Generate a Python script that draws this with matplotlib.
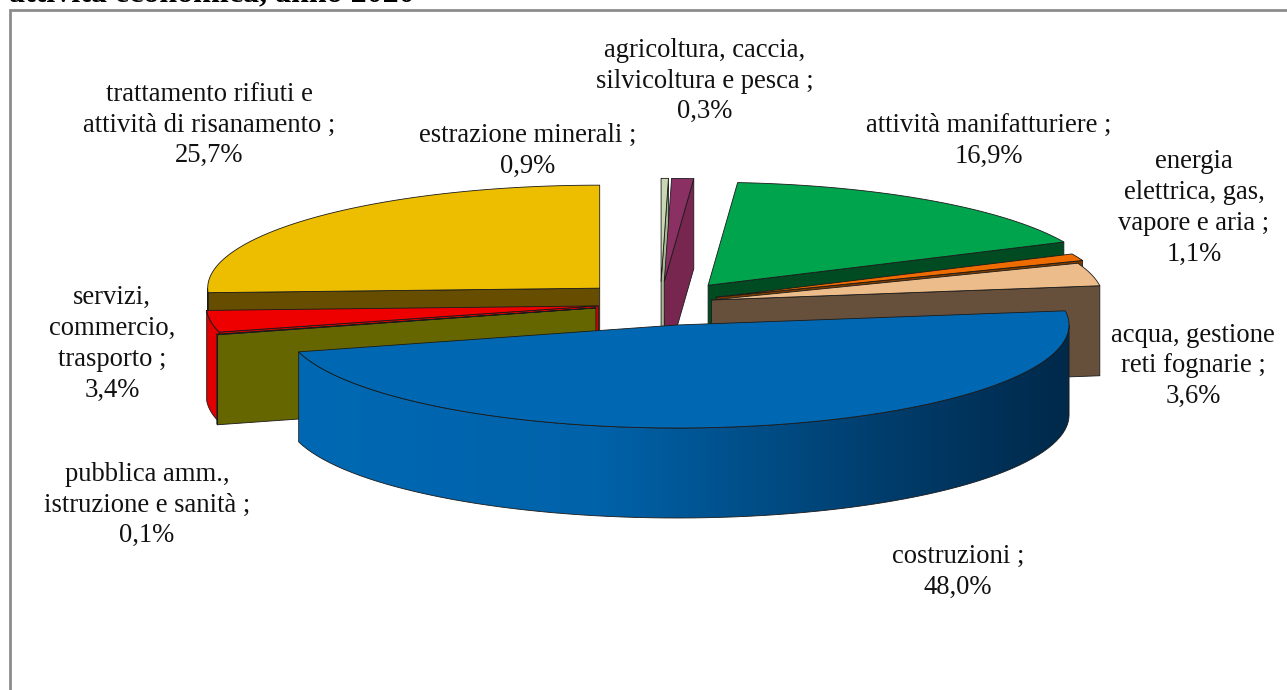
import numpy as np
import matplotlib
matplotlib.use("Agg")
import matplotlib.pyplot as plt
from matplotlib.colors import LinearSegmentedColormap
from matplotlib.patches import Polygon, Rectangle

# -----------------------------
# Data (clockwise from 12 o'clock)
# -----------------------------
categories = [
    "agricoltura, caccia,\nsilvicoltura e pesca ;",
    "estrazione minerali ;",
    "attività manifatturiere ;",
    "energia\nelettrica, gas,\nvapore e aria ;",
    "acqua, gestione\nreti fognarie ;",
    "costruzioni ;",
    "pubblica amm.,\nistruzione e sanità ;",
    "servizi,\ncommercio,\ntrasporto ;",
    "trattamento rifiuti e\nattività di risanamento ;",
]
values = [0.3, 0.9, 16.9, 1.1, 3.6, 48.0, 0.1, 3.4, 25.7]
title_text = "attività economica, anno 2020"

# -----------------------------
# Style
# -----------------------------
top_colors = ["#C9D8B2", "#8A3062", "#00A44D", "#EE6B00", "#EDBC8B",
              "#0068B3", "#666600", "#EE0000", "#EDBE00"]
side_colors = ["#A9B894", "#76264F", "#004B22", "#7A3A00", "#66503C",
               "#0068B3", "#666600", "#E00000", "#664D00"]
explode = [0.214, 0.214, 0.214, 0.155, 0.135, 0.214, 0.17, 0.16, 0.214]
label_pos = [(705, 81), (528, 151), (989, 141), (1194, 208), (1193, 366),
             (958, 572), (147, 505), (112, 344), (209, 125)]
draw_order = [8, 7, 6, 0, 1, 2, 3, 4, 5]

OX, OY = 660.3, 303.4  # pie centre on the canvas
A, B = 392, 103        # ellipse radii
DEPTH = 90

# -----------------------------
# Canvas (pixel coordinates)
# -----------------------------
plt.rcParams['font.family'] = ['Liberation Serif', 'DejaVu Serif']
fig = plt.figure(figsize=(12.87, 6.90), dpi=100)
ax = fig.add_axes([0, 0, 1, 1])
ax.set_xlim(0, 1287)
ax.set_ylim(690, 0)
ax.axis('off')

ax.add_patch(Rectangle((10, 9.5), 1300, 700, fc='white', ec='#8C8C8C', lw=2))
ax.text(9, 1.5, title_text, fontsize=23, fontweight='bold', ha='left', va='baseline',
        color='black')

# -----------------------------
# Slices
# -----------------------------
edges = np.radians(np.cumsum([0] + values) / sum(values) * 360)
blue_side = LinearSegmentedColormap.from_list(
    'blue_side', [(0, '#0068B3'), (0.38, '#0063AA'), (0.75, '#003E6E'), (1, '#00294A')])


def rim(cx, cy, start, end, n=80):
    t = np.linspace(start, end, n)
    return np.column_stack([cx + A * np.sin(t), cy - B * np.cos(t)])


def face(points, color, z):
    ax.add_patch(Polygon(points, closed=True, fc=color, ec='#1A1A1A', lw=0.6,
                         joinstyle='round', zorder=z))


z = 2
for i in draw_order:
    t1, t2 = edges[i], edges[i + 1]
    mid = (t1 + t2) / 2
    cx = OX + explode[i] * A * np.sin(mid)
    cy = OY - explode[i] * B * np.cos(mid)
    apex = np.array([[cx, cy]])
    down = np.array([0, DEPTH])

    # cut faces: right hand slices show the end cut, left hand ones the start cut
    if t2 < np.pi:
        corner = rim(cx, cy, t2, t2, 1)
        face(np.vstack([apex, corner, corner + down, apex + down]), side_colors[i], z)
    elif t1 > np.pi:
        corner = rim(cx, cy, t1, t1, 1)
        face(np.vstack([apex, corner, corner + down, apex + down]), side_colors[i], z)

    # outer wall, only where it faces the viewer
    w1, w2 = max(t1, np.pi / 2), min(t2, 3 * np.pi / 2)
    if w2 > w1:
        arc = rim(cx, cy, w1, w2)
        wall = np.vstack([arc, arc[::-1] + down])
        if i == 5:
            patch = Polygon(wall, closed=True, fc='none', ec='#1A1A1A', lw=0.6, zorder=z + 0.2)
            ax.add_patch(patch)
            grad = ax.imshow(np.linspace(0, 1, 400)[None, :], cmap=blue_side, aspect='auto',
                             extent=(wall[:, 0].min(), wall[:, 0].max(),
                                     wall[:, 1].max(), wall[:, 1].min()), zorder=z + 0.1)
            grad.set_clip_path(patch)
        else:
            face(wall, side_colors[i], z)

    # top face
    face(np.vstack([apex, rim(cx, cy, t1, t2)]), top_colors[i], z + 0.5)
    z += 1

ax.set_xlim(0, 1287)
ax.set_ylim(690, 0)

# -----------------------------
# Labels
# -----------------------------
for name, val, (x, y) in zip(categories, values, label_pos):
    pct = f"{val:.1f}".replace('.', ',') + "%"
    ax.text(x, y, name + "\n" + pct, fontsize=19.2, ha='center', va='center',
            linespacing=1.31, color='#111111', zorder=30)

fig.savefig('out.png', dpi=100)
